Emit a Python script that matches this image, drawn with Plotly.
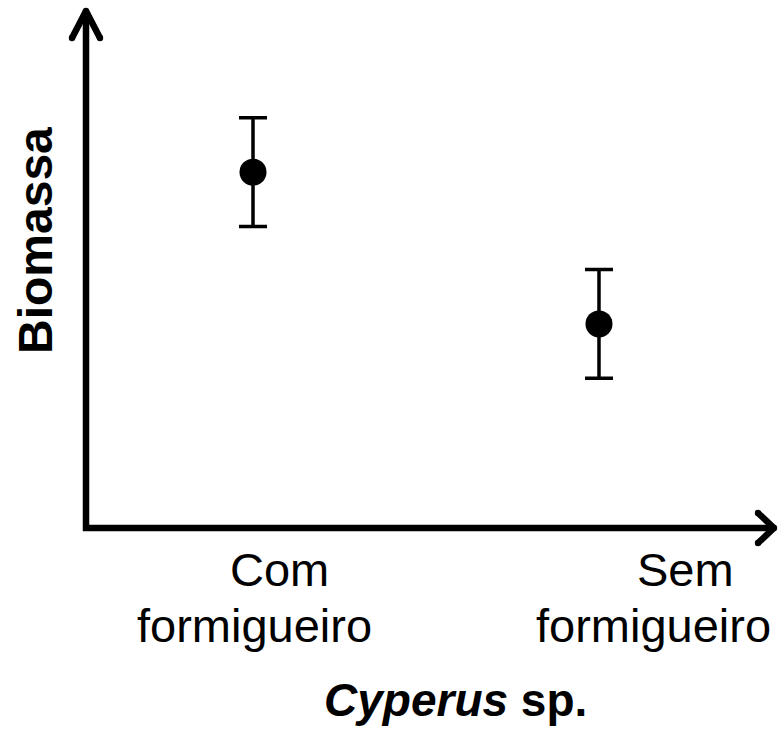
import plotly.graph_objects as go

# ---- data ----
categories = ["Com formigueiro", "Sem formigueiro"]
biomassa = [6.87, 3.94]
erro = [1.05, 1.05]
x_title = "<b><i>Cyperus</i> sp.</b>"
y_title = "<b>Biomassa</b>"

FONT = "Liberation Sans, Arial, sans-serif"
W, H = 778, 732
L, R, T, B = 86, 2, 10, 204
PW, PH = W - L - R, H - T - B


def px(x):
    return (x - L) / PW


def py(y):
    return (H - B - y) / PH


fig = go.Figure()
fig.add_trace(go.Scatter(
    x=categories, y=biomassa, mode="markers",
    marker=dict(color="black", size=27, symbol="circle"),
    error_y=dict(type="data", array=erro, visible=True, color="black",
                 thickness=3.5, width=14),
    showlegend=False, hoverinfo="skip",
))

# axis lines with chevron arrowheads
ax_col = "black"
lw = 6.5
shapes = [
    dict(type="line", xref="paper", yref="paper", x0=px(86), y0=py(531), x1=px(86), y1=py(12)),
    dict(type="line", xref="paper", yref="paper", x0=px(83), y0=py(528), x1=px(773), y1=py(528)),
    # y arrowhead
    dict(type="line", xref="paper", yref="paper", x0=px(86), y0=py(11), x1=px(72), y1=py(38)),
    dict(type="line", xref="paper", yref="paper", x0=px(86), y0=py(11), x1=px(100), y1=py(38)),
    # x arrowhead
    dict(type="line", xref="paper", yref="paper", x0=px(774), y0=py(528), x1=px(758), y1=py(513)),
    dict(type="line", xref="paper", yref="paper", x0=px(774), y0=py(528), x1=px(758), y1=py(543)),
]
for s in shapes:
    s["line"] = dict(color=ax_col, width=lw)
# rounded ends
for (cx, cy) in [(72, 38), (100, 38), (758, 513), (758, 543), (86, 11), (774, 528)]:
    shapes.append(dict(type="circle", xref="paper", yref="paper",
                       x0=px(cx - 3.2), x1=px(cx + 3.2), y0=py(cy + 3.2), y1=py(cy - 3.2),
                       fillcolor=ax_col, line=dict(width=0)))

annotations = []
label_pos = [((279, 569), (254, 625)), ((685, 569), (653, 625))]
for cat, ((x1, y1), (x2, y2)) in zip(categories, label_pos):
    first, second = cat.split(" ", 1)
    annotations.append(dict(text=first, xref="paper", yref="paper", x=px(x1), y=py(y1),
                            xanchor="center", yanchor="middle", showarrow=False,
                            font=dict(family=FONT, size=47, color="black")))
    annotations.append(dict(text=second, xref="paper", yref="paper", x=px(x2), y=py(y2),
                            xanchor="center", yanchor="middle", showarrow=False,
                            font=dict(family=FONT, size=47, color="black")))
annotations.append(dict(text=x_title, xref="paper", yref="paper", x=px(455), y=py(700),
                        xanchor="center", yanchor="middle", showarrow=False,
                        font=dict(family=FONT, size=46, color="black")))
annotations.append(dict(text=y_title, xref="paper", yref="paper", x=px(35), y=py(241),
                        xanchor="center", yanchor="middle", showarrow=False, textangle=-90,
                        font=dict(family=FONT, size=48, color="black")))

fig.update_layout(
    width=W, height=H,
    margin=dict(l=L, r=R, t=T, b=B),
    paper_bgcolor="white", plot_bgcolor="white",
    xaxis=dict(type="category", range=[-0.4827, 1.5116], showgrid=False, zeroline=False,
               showline=False, showticklabels=False, ticks=""),
    yaxis=dict(range=[0, 10], showgrid=False, zeroline=False, showline=False,
               showticklabels=False, ticks=""),
    shapes=shapes,
    annotations=annotations,
    showlegend=False,
)

fig.write_html("out.html", config={"displayModeBar": False},
               post_script="document.body.style.margin='0';document.body.style.overflow='hidden';")
